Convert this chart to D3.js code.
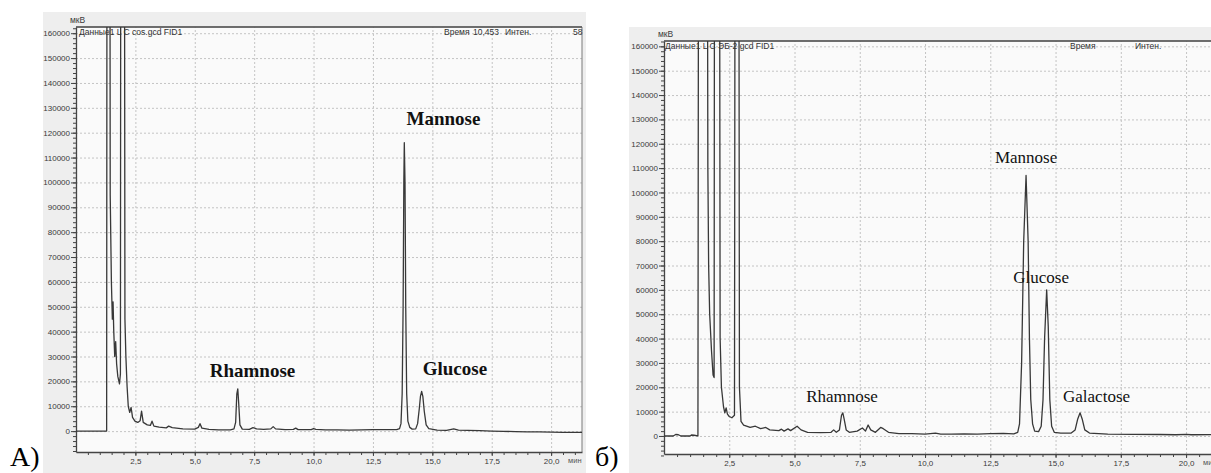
<!DOCTYPE html>
<html>
<head>
<meta charset="utf-8">
<script src="https://cdnjs.cloudflare.com/ajax/libs/d3/7.8.5/d3.min.js"></script>
<style>
  body { margin: 0; background: #fff; }
  text { font-family: "Liberation Sans", Arial, sans-serif; }
  .serif { font-family: "Liberation Serif", "Times New Roman", serif; }
</style>
</head>
<body>
<svg id="chart" width="1211" height="473"></svg>
<script>
'use strict';

//  Data: [time, min ; signal, uV]
//  (off-scale solvent peaks are given 300000 and clipped by the plot)

var chromA = [
  [0,0],[1.29,0],[1.31,300000],[1.42,300000],[1.44,95000],[1.49,60000],[1.53,45000],
  [1.56,52000],[1.59,40000],[1.63,30000],[1.67,36000],[1.71,27000],[1.76,22000],
  [1.83,19000],[1.87,23000],[1.89,300000],[2.03,300000],[2.06,45000],[2.1,30000],
  [2.15,18000],[2.2,10000],[2.26,7500],[2.32,9500],[2.38,5500],[2.48,4000],[2.6,3500],
  [2.7,4200],[2.76,8000],[2.83,3500],[3.0,2500],[3.13,2300],[3.2,4000],[3.28,2000],
  [3.5,1600],[3.8,1300],[3.9,2000],[4.05,1400],[4.5,900],[5.0,800],[5.15,1500],
  [5.22,3000],[5.3,1200],[5.6,700],[6.0,500],[6.5,500],[6.65,900],[6.72,3500],
  [6.77,15000],[6.81,17000],[6.85,11000],[6.9,2500],[7.0,800],[7.3,700],[7.45,1400],
  [7.6,900],[7.9,700],[8.2,900],[8.3,1800],[8.4,900],[8.8,600],[9.15,700],[9.25,1200],
  [9.35,600],[9.9,600],[10.0,1000],[10.1,700],[10.5,500],[11.0,500],[11.5,400],
  [12.0,500],[12.5,600],[13.0,600],[13.5,600],[13.62,1000],[13.68,3000],[13.73,15000],
  [13.77,50000],[13.8,100000],[13.82,116000],[13.85,100000],[13.88,50000],[13.92,15000],
  [13.97,4000],[14.05,1500],[14.15,800],[14.3,900],[14.38,3000],[14.45,9000],
  [14.5,14000],[14.55,16000],[14.6,14000],[14.66,8000],[14.74,2500],[14.85,1000],
  [15.2,400],[15.6,300],[15.9,900],[16.1,400],[16.5,300],[17.0,200],[17.5,0],
  [18.0,-100],[18.5,-200],[19.0,-300],[19.5,-300],[20.0,-400],[20.5,-500],[21.3,-500]
];

var chromB = [
  [0,0],[0.35,0],[0.45,600],[0.55,500],[0.65,0],[1.0,0],[1.05,400],[1.15,300],[1.3,0],
  [1.33,300000],[1.65,300000],[1.68,110000],[1.71,70000],[1.75,50000],[1.82,35000],
  [1.88,25000],[1.92,24000],[1.94,300000],[2.12,300000],[2.15,40000],[2.2,20000],
  [2.28,12000],[2.33,9500],[2.38,11500],[2.43,9000],[2.5,8000],[2.6,7500],[2.7,8500],
  [2.73,300000],[2.86,300000],[2.89,20000],[2.95,6000],[3.05,4500],[3.3,3500],
  [3.5,4000],[3.7,3000],[3.9,3500],[4.05,2500],[4.4,2200],[4.5,2800],[4.6,2000],
  [4.75,2900],[4.85,2200],[5.1,4000],[5.25,2500],[5.5,1500],[6.0,1400],[6.4,1500],
  [6.5,2500],[6.6,1500],[6.72,2500],[6.8,8500],[6.85,9500],[6.9,7000],[6.98,2500],
  [7.1,1500],[7.4,2000],[7.6,3300],[7.72,2000],[7.82,4500],[7.92,2500],[8.1,1500],
  [8.3,3500],[8.4,3000],[8.6,1500],[9.0,1000],[9.5,1000],[10.0,800],[10.4,1200],
  [10.6,800],[11.0,800],[11.5,900],[12.0,800],[12.5,1000],[13.0,1100],[13.4,900],
  [13.55,1500],[13.62,5000],[13.7,30000],[13.78,80000],[13.87,107000],[13.95,80000],
  [14.0,40000],[14.05,15000],[14.12,5000],[14.2,2000],[14.35,1800],[14.45,4000],
  [14.52,15000],[14.58,40000],[14.66,60000],[14.72,45000],[14.78,15000],[14.85,4000],
  [14.95,1500],[15.2,1200],[15.6,1200],[15.75,2500],[15.85,7000],[15.94,9500],
  [16.02,7000],[16.12,2500],[16.3,1200],[17.0,800],[18.0,700],[19.0,600],[19.6,500],
  [20.0,700],[20.2,500],[21.4,600]
];

// peak names with anchor point (time, signal) of the label
var peaksA = [
  ['Rhamnose', 7.43, 21700],
  ['Mannose', 15.47, 123000],
  ['Glucose', 15.95, 22500]
];
var peaksB = [
  ['Rhamnose', 6.82, 14100],
  ['Mannose', 13.87, 112100],
  ['Glucose', 14.45, 62800],
  ['Galactose', 16.57, 14100]
];

var yTicks = [0, 10000, 20000, 30000, 40000, 50000, 60000, 70000, 80000,
              90000, 100000, 110000, 120000, 130000, 140000, 150000, 160000];
var xTicks = [2.5, 5.0, 7.5, 10.0, 12.5, 15.0, 17.5, 20.0];
var xTickLabels = ['2,5', '5,0', '7,5', '10,0', '12,5', '15,0', '17,5', '20,0'];

var svg = d3.select('#chart');

function drawPanel(p) {
    var g = svg.append('g');
    var w = p.right - p.left, h = p.bottom - p.top;

    var x = d3.scaleLinear().domain(p.xDomain).range([p.left, p.right]);
    var y = d3.scaleLinear().domain(p.yDomain).range([p.bottom, p.top]);

    g.append('rect')
        .attr('x', p.box[0]).attr('y', p.box[1])
        .attr('width', p.box[2]).attr('height', p.box[3])
        .attr('fill', '#eeeeee');

    g.append('rect')
        .attr('x', p.left).attr('y', p.top)
        .attr('width', w).attr('height', h)
        .attr('fill', '#fafafa');

    // dotted grid
    g.append('g')
        .attr('transform', 'translate(0,' + p.bottom + ')')
        .call(d3.axisBottom(x).tickValues(xTicks).tickSize(-h).tickFormat(''))
        .call(function(s) { s.select('.domain').remove(); });
    g.append('g')
        .attr('transform', 'translate(' + p.left + ',0)')
        .call(d3.axisLeft(y).tickValues(yTicks).tickSize(-w).tickFormat(''))
        .call(function(s) { s.select('.domain').remove(); });
    g.selectAll('.tick line')
        .attr('stroke', '#c4c4c4')
        .attr('stroke-dasharray', '2,2');

    // frame
    g.append('path')
        .attr('d', 'M' + p.left + ',' + p.top + 'H' + p.right + 'V' + p.bottom)
        .attr('fill', 'none').attr('stroke', '#7a7a7a').attr('stroke-width', 1);
    g.append('line')
        .attr('x1', p.left).attr('x2', p.right).attr('y1', p.top).attr('y2', p.top)
        .attr('stroke', '#555').attr('stroke-width', 1.5);

    // minor ticks
    g.append('g')
        .attr('transform', 'translate(' + p.left + ',0)')
        .call(d3.axisLeft(y).tickValues(d3.range(-8000, 162001, 2000)).tickSize(3).tickFormat(''))
        .call(function(s) { s.selectAll('line').attr('stroke', '#444'); s.select('.domain').remove(); });
    g.append('g')
        .attr('transform', 'translate(0,' + p.bottom + ')')
        .call(d3.axisBottom(x).tickValues(d3.range(0.5, p.xDomain[1], 0.5)).tickSize(3).tickFormat(''))
        .call(function(s) { s.selectAll('line').attr('stroke', '#444'); s.select('.domain').remove(); });

    // main axes
    var ya = g.append('g')
        .attr('transform', 'translate(' + p.left + ',0)')
        .call(d3.axisLeft(y).tickValues(yTicks).tickSize(5).tickPadding(1).tickSizeOuter(0)
            .tickFormat(d3.format('d')));
    var xa = g.append('g')
        .attr('transform', 'translate(0,' + p.bottom + ')')
        .call(d3.axisBottom(x).tickValues(xTicks).tickSize(4).tickPadding(2).tickSizeOuter(0)
            .tickFormat(function(d, i) { return xTickLabels[i]; }));
    [ya, xa].forEach(function(a) {
        a.select('.domain').attr('stroke', '#444').attr('stroke-width', 1.3);
        a.selectAll('line').attr('stroke', '#444');
        a.selectAll('text').attr('font-size', 8).attr('fill', '#3a3a3a')
            .attr('font-family', '"Liberation Sans", Arial, sans-serif');
    });

    g.append('text').attr('x', p.left - 6).attr('y', p.top - 4)
        .attr('font-size', 8.5).attr('fill', '#3a3a3a').text('мкВ');
    g.append('text').attr('x', x(20) + 17).attr('y', p.bottom + 11)
        .attr('font-size', 7.5).attr('fill', '#555').text('мин');

    // header texts
    p.header.forEach(function(t) {
        g.append('text').attr('x', t[1]).attr('y', p.top + 8)
            .attr('font-size', 8.5).attr('fill', '#333').text(t[0]);
    });

    // trace
    g.append('clipPath').attr('id', p.id)
        .append('rect').attr('x', p.left).attr('y', p.top).attr('width', w).attr('height', h);
    var line = d3.line()
        .x(function(d) { return x(d[0]); })
        .y(function(d) { return y(d[1]); });
    g.append('path')
        .datum(p.data)
        .attr('clip-path', 'url(#' + p.id + ')')
        .attr('d', line)
        .attr('fill', 'none')
        .attr('stroke', '#383838')
        .attr('stroke-width', 1.3)
        .attr('stroke-linejoin', 'round');

    // peak names
    g.selectAll('.peak')
        .data(p.peaks)
        .enter().append('text')
        .attr('class', 'serif')
        .attr('x', function(d) { return x(d[1]); })
        .attr('y', function(d) { return y(d[2]); })
        .attr('text-anchor', 'middle')
        .attr('font-size', p.peakFont)
        .attr('font-weight', p.peakWeight)
        .attr('fill', '#111')
        .text(function(d) { return d[0]; });

    svg.append('text').attr('class', 'serif')
        .attr('x', p.tag[1]).attr('y', 466)
        .attr('font-size', 28).attr('fill', '#000')
        .text(p.tag[0]);
}

drawPanel({
    id: 'clipA', data: chromA, peaks: peaksA,
    box: [43, 12, 543, 461],
    left: 76, right: 582, top: 27, bottom: 452,
    xDomain: [0, 21.3], yDomain: [-8400, 162500],
    peakFont: 19, peakWeight: 'bold',
    tag: ['А)', 10],
    header: [['Данные1 L C cos.gcd FID1', 79], ['Время', 444], ['10,453', 473],
             ['Интен.', 505], ['58', 573]]
});

drawPanel({
    id: 'clipB', data: chromB, peaks: peaksB,
    box: [629, 27, 582, 446],
    left: 664, right: 1220, top: 41, bottom: 454,
    xDomain: [0, 21.3], yDomain: [-7400, 162200],
    peakFont: 17, peakWeight: 'normal',
    tag: ['б)', 595],
    header: [['Данные1 L C ЭБ-2 gcd FID1', 665], ['Время', 1070], ['Интен.', 1135]]
});
</script>
</body>
</html>
